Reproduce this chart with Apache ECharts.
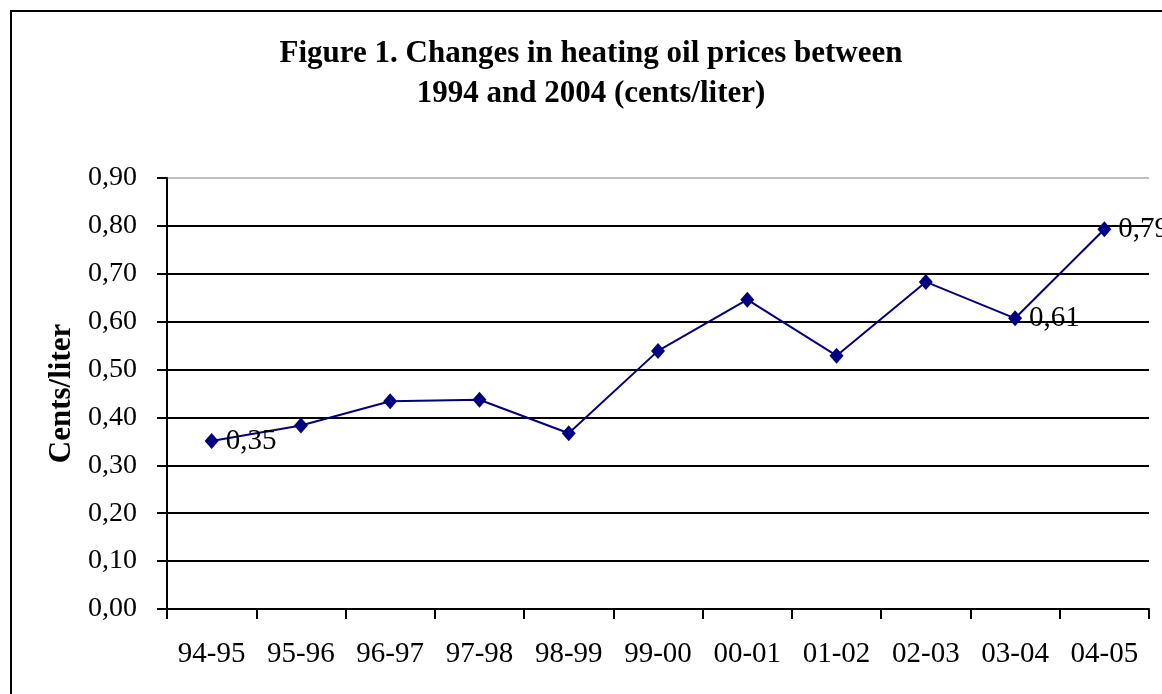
<!DOCTYPE html>
<html>
<head>
<meta charset="utf-8">
<title>Heating oil prices</title>
<script src="https://cdn.jsdelivr.net/npm/echarts@6/dist/echarts.min.js"></script>
<style>
  html, body { margin: 0; padding: 0; background: #fff; }
  #chart { width: 1162px; height: 694px; }
</style>
</head>
<body>
<div id="chart"></div>
<script>
// 数据
const seasons = ['94-95', '95-96', '96-97', '97-98', '98-99', '99-00', '00-01', '01-02', '02-03', '03-04', '04-05'];
const prices = [0.351, 0.383, 0.434, 0.437, 0.367, 0.539, 0.646, 0.529, 0.683, 0.607, 0.793];
const labelledPoints = [0, 9, 10];
const yTicks = [0, 0.9, 0.1]; // min, max, interval

const serif = "'Liberation Serif', 'Times New Roman', serif";
const comma = v => v.toFixed(2).replace('.', ',');

const myChart = echarts.init(document.getElementById('chart'));

const seriesData = prices.map((v, i) => ({
  value: v,
  label: { show: labelledPoints.includes(i) }
}));

// 最上面一条网格线是灰色
const gridColors = [];
for (let i = 0; i < 9; i++) gridColors.push('#000');
gridColors.push('#c0c0c0');

const option = {
  animation: false,
  backgroundColor: '#fff',
  title: {
    text: 'Figure 1. Changes in heating oil prices between\n1994 and 2004 (cents/liter)',
    left: 586,
    textAlign: 'center',
    top: 29,
    textStyle: {
      fontFamily: serif,
      fontWeight: 'bold',
      fontSize: 31,
      lineHeight: 40,
      color: '#000'
    }
  },
  graphic: [{
    type: 'rect',
    shape: { x: 11, y: 11, width: 1200, height: 720 },
    style: { fill: 'none', stroke: '#000', lineWidth: 2 },
    silent: true
  }],
  grid: { left: 167, right: 13, top: 178, bottom: 85 },
  xAxis: {
    type: 'category',
    data: seasons,
    boundaryGap: true,
    axisLine: { lineStyle: { color: '#000', width: 2 } },
    axisTick: { show: true, length: 10, interval: 0, lineStyle: { color: '#000', width: 2 } },
    axisLabel: { interval: 0, margin: 31, fontFamily: serif, fontSize: 29, color: '#000' },
    splitLine: { show: false }
  },
  yAxis: {
    type: 'value',
    min: yTicks[0],
    max: yTicks[1],
    interval: yTicks[2],
    name: 'Cents/liter',
    nameLocation: 'middle',
    nameRotate: 90,
    nameGap: 89,
    nameTextStyle: { fontFamily: serif, fontWeight: 'bold', fontSize: 31, color: '#000' },
    axisLine: { show: true, lineStyle: { color: '#000', width: 2 } },
    axisTick: { show: true, length: 10, lineStyle: { color: '#000', width: 2 } },
    axisLabel: { margin: 30, fontFamily: serif, fontSize: 28, color: '#000', formatter: comma },
    splitLine: { show: true, lineStyle: { color: gridColors, width: 2 } }
  },
  series: [{
    type: 'line',
    data: seriesData,
    symbol: 'diamond',
    symbolSize: [14, 16],
    lineStyle: { color: '#000080', width: 2 },
    itemStyle: { color: '#000080' },
    label: {
      position: 'right',
      distance: 7,
      fontFamily: serif,
      fontSize: 29,
      color: '#000',
      formatter: p => comma(p.value)
    }
  }]
};

myChart.setOption(option);
</script>
</body>
</html>
